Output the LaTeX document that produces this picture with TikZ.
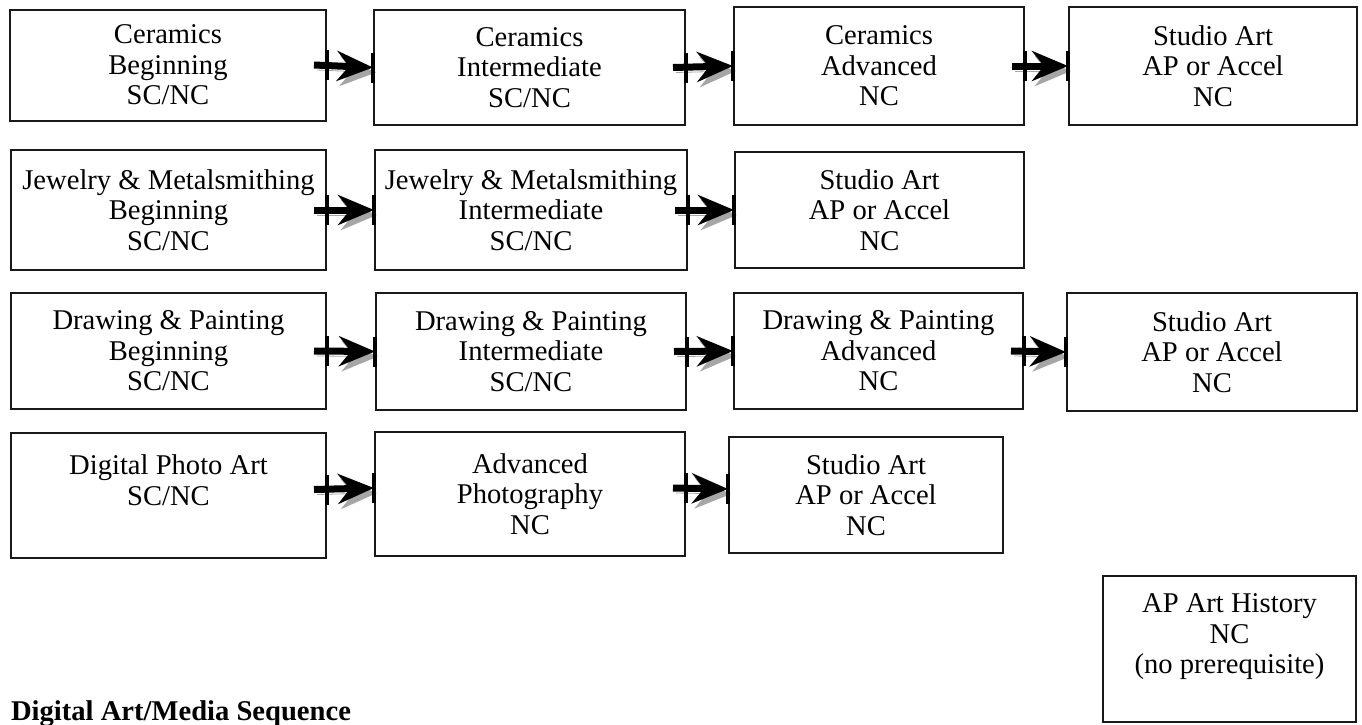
\documentclass[tikz,border=0pt]{standalone}
\usepackage{fontspec}
\setmainfont{Liberation Serif}
\usetikzlibrary{arrows.meta}

\begin{document}
\begin{tikzpicture}
    [x=0.5pt,y=-0.5pt,
     every node/.style={draw=black!90,line width=1pt,align=center,inner xsep=2pt,font=\fontsize{14.3}{15.3}\selectfont},
     flow/.style={line width=3.5pt,-{Stealth[length=18pt,width=15pt,inset=6pt]},
       preaction={draw=black!35,transform canvas={shift={(1.5pt,-2.5pt)}}}},
     tick/.style={line width=2pt}]
    \useasboundingbox (0,0) rectangle (1362,724);
    % ceramics
    \node[minimum width=158pt,minimum height=55.5pt] (c1) at (168,65) {Ceramics\\Beginning\\SC/NC};
    \node[minimum width=155.5pt,minimum height=57.5pt] (c2) at (529.5,67.5) {Ceramics\\Intermediate\\SC/NC};
    \node[minimum width=145pt,minimum height=59pt] (c3) at (879,66) {Ceramics\\Advanced\\NC};
    \node[minimum width=144pt,minimum height=59pt] (c4) at (1213,66) {Studio Art\\AP or Accel\\NC};
    % jewelry
    \node[minimum width=157.5pt,minimum height=60pt] (j1) at (168.5,210) {Jewelry \& Metalsmithing\\Beginning\\SC/NC};
    \node[minimum width=156pt,minimum height=60pt] (j2) at (531,210) {Jewelry \& Metalsmithing\\Intermediate\\SC/NC};
    \node[minimum width=144.5pt,minimum height=58pt] (j3) at (879.5,210) {Studio Art\\AP or Accel\\NC};
    % drawing
    \node[minimum width=157.5pt,minimum height=58pt] (d1) at (168.5,351) {Drawing \& Painting\\Beginning\\SC/NC};
    \node[minimum width=155pt,minimum height=58.5pt] (d2) at (531,351.5) {Drawing \& Painting\\Intermediate\\SC/NC};
    \node[minimum width=144.5pt,minimum height=58pt] (d3) at (878.5,351) {Drawing \& Painting\\Advanced\\NC};
    \node[minimum width=145pt,minimum height=59pt] (d4) at (1212,352) {Studio Art\\AP or Accel\\NC};
    % photo
    \node[minimum width=157.5pt,minimum height=62.5pt] (p1) at (168.5,495.5) {Digital Photo Art\\SC/NC\\\mbox{}};
    \node[minimum width=155pt,minimum height=62pt] (p2) at (530,494) {Advanced\\Photography\\NC};
    \node[minimum width=137pt,minimum height=58pt] (p3) at (866,495) {Studio Art\\AP or Accel\\NC};
    \node[minimum width=126.5pt,minimum height=73pt] (hist) at (1229.5,649) {AP Art History\\NC\\(no prerequisite)\\\mbox{}};
    \node[draw=none,anchor=base west,inner sep=0pt,font=\fontsize{14.3}{15.3}\selectfont\bfseries] (title) at (10,720) {Digital Art/Media Sequence};
    \draw[flow] ([xshift=-6.5pt]c1.east) -- (c2.west);
    \draw[flow] ([xshift=-6.5pt]c2.east) -- (c3.west);
    \draw[flow] ([xshift=-6.5pt]c3.east) -- (c4.west);
    \draw[flow] ([xshift=-6.5pt]j1.east) -- (j2.west);
    \draw[flow] ([xshift=-6.5pt]j2.east) -- (j3.west);
    \draw[flow] ([xshift=-6.5pt]d1.east) -- (d2.west);
    \draw[flow] ([xshift=-6.5pt]d2.east) -- (d3.west);
    \draw[flow] ([xshift=-6.5pt]d3.east) -- (d4.west);
    \draw[flow] ([xshift=-6.5pt,yshift=3pt]p1.east) -- ([yshift=3pt]p2.west);
    \draw[flow] ([xshift=-6.5pt,yshift=3pt]p2.east) -- ([yshift=3pt]p3.west);
    \draw[tick] ([yshift=-7.5pt]c1.east) -- ([yshift=7.5pt]c1.east);
    \draw[tick] ([yshift=-7.5pt]c2.west) -- ([yshift=7.5pt]c2.west);
    \draw[tick] ([yshift=-7.5pt]c2.east) -- ([yshift=7.5pt]c2.east);
    \draw[tick] ([yshift=-7.5pt]c3.west) -- ([yshift=7.5pt]c3.west);
    \draw[tick] ([yshift=-7.5pt]c3.east) -- ([yshift=7.5pt]c3.east);
    \draw[tick] ([yshift=-7.5pt]c4.west) -- ([yshift=7.5pt]c4.west);
    \draw[tick] ([yshift=-7.5pt]j1.east) -- ([yshift=7.5pt]j1.east);
    \draw[tick] ([yshift=-7.5pt]j2.west) -- ([yshift=7.5pt]j2.west);
    \draw[tick] ([yshift=-7.5pt]j2.east) -- ([yshift=7.5pt]j2.east);
    \draw[tick] ([yshift=-7.5pt]j3.west) -- ([yshift=7.5pt]j3.west);
    \draw[tick] ([yshift=-7.5pt]d1.east) -- ([yshift=7.5pt]d1.east);
    \draw[tick] ([yshift=-7.5pt]d2.west) -- ([yshift=7.5pt]d2.west);
    \draw[tick] ([yshift=-7.5pt]d2.east) -- ([yshift=7.5pt]d2.east);
    \draw[tick] ([yshift=-7.5pt]d3.west) -- ([yshift=7.5pt]d3.west);
    \draw[tick] ([yshift=-7.5pt]d3.east) -- ([yshift=7.5pt]d3.east);
    \draw[tick] ([yshift=-7.5pt]d4.west) -- ([yshift=7.5pt]d4.west);
    \draw[tick] ([yshift=-4.5pt]p1.east) -- ([yshift=10.5pt]p1.east);
    \draw[tick] ([yshift=-4.5pt]p2.west) -- ([yshift=10.5pt]p2.west);
    \draw[tick] ([yshift=-4.5pt]p2.east) -- ([yshift=10.5pt]p2.east);
    \draw[tick] ([yshift=-4.5pt]p3.west) -- ([yshift=10.5pt]p3.west);
  \end{tikzpicture}
\end{document}
